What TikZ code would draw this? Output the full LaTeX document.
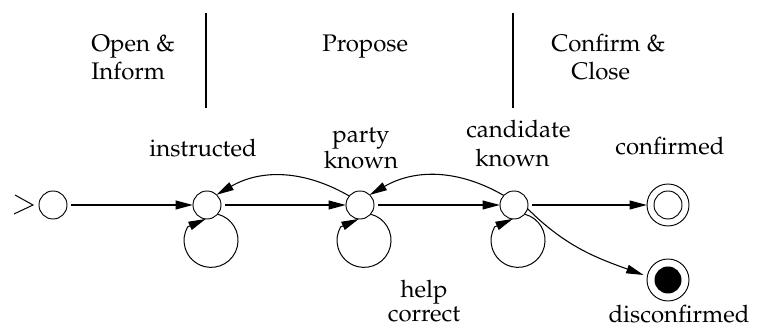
\documentclass[tikz,border=0pt]{standalone}
\usepackage[T1]{fontenc}
\usepackage{mathpazo}
\usetikzlibrary{arrows.meta}
% two-line labels: first row sits on the node's baseline
\newcommand\stackc[3]{\vtop{\baselineskip=#1\relax\halign{\hfil##\hfil\cr#2\cr#3\cr}}}
\newcommand\stackl[3]{\vtop{\baselineskip=#1\relax\halign{##\hfil\cr#2\cr#3\cr}}}
\begin{document}
\begin{tikzpicture}[x=0.75pt,y=0.75pt,
  state/.style={circle,draw,line width=0.7pt,minimum size=21pt,inner sep=0pt,outer sep=0pt,fill=white},
  final/.style={circle,draw,line width=0.7pt,minimum size=31.5pt,inner sep=0pt,outer sep=0pt},
  lbl/.style={inner sep=0pt,font=\fontsize{18pt}{20pt}\selectfont},
  tip/.style={-{Triangle[length=13pt,width=6.5pt]}},
  move/.style={tip,line width=1.3pt,shorten <=3pt},
  back/.style={tip,line width=0.8pt},
  loopy/.style={tip,line width=0.75pt},
  divider/.style={line width=0.8pt}]
\useasboundingbox (0,0) rectangle (757,331);

% phase headings and dividers
\node[lbl,anchor=base west] (open) at (91,279) {\stackl{21pt}{Open \&}{Inform}};
\node[lbl,anchor=base west] (propose) at (322,279) {Propose};
\node[lbl,anchor=base west] (close) at (551,279) {\stackl{21pt}{Confirm \&}{\hspace{15pt}Close}};
\draw[divider] (206,318) -- (206,223);
\draw[divider] (513,318) -- (513,223);

% states
\node[state] (q0) at (53,126) {};
\node[state] (q1) at (207,126) {};
\node[state] (q2) at (360,126) {};
\node[state] (q3) at (514,126) {};
\node[final] (conf) at (668,126) {};
\node[final] (disc) at (668,51) {};
\draw[line width=0.7pt] (conf.center) circle[radius=14];
\fill (disc.center) circle[radius=13.5];

% start marker
\draw[line width=0.75pt] (q0.west) ++(-24,10) -- ++(18,-10) -- ++(-19,-9);

% state labels
\node[lbl,anchor=base] (linstr) at (203,174) {instructed};
\node[lbl,anchor=base] (lparty) at (361,188) {\stackc{18pt}{party}{known}};
\node[lbl,anchor=base west] (lcand) at (466,193) {\stackl{21.75pt}{candidate}{\hspace{6.75pt}known}};
\node[lbl,anchor=base] (lconf) at (670,176) {confirmed};
\node[lbl,anchor=base] (lhelp) at (424,33) {\stackc{17.6pt}{help}{correct}};
\node[lbl,anchor=base] (ldisc) at (679,8) {disconfirmed};

% forward moves
\draw[move] (q0) -- (q1);
\draw[move] (q1) -- (q2);
\draw[move] (q2) -- (q3);
\draw[move] (q3) -- (conf);

% backward moves
\draw[back] (q2.140) to[out=150,in=30] (q1.47);
\draw[back] (q3.137) to[out=150,in=30] (q2.46);
\draw[back,shorten >=3pt] (q3.-15) to[out=-45,in=160] (disc.170);

% self loops
\foreach \q in {q1,q2,q3}
  \draw[loopy] (\q.-41.5) arc[start angle=76,end angle=-210,radius=27] -- (\q.-95);
\end{tikzpicture}
\end{document}
